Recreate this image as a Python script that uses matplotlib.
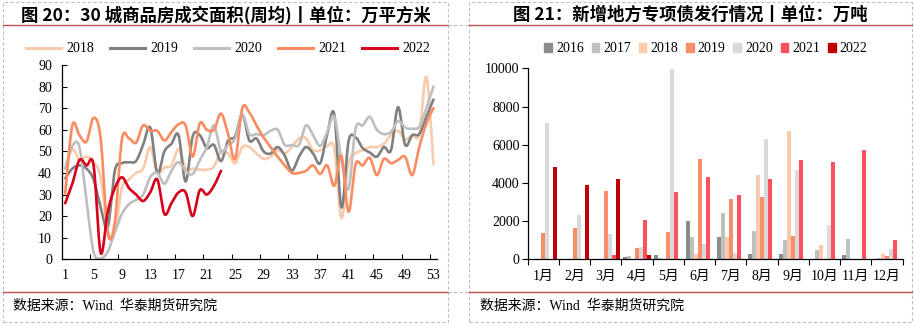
import numpy as np
import matplotlib
matplotlib.use('Agg')
import matplotlib.pyplot as plt
from matplotlib.lines import Line2D
from matplotlib.patches import Rectangle

plt.rcParams['font.family'] = ['Liberation Serif', 'Noto Sans CJK SC']

# 30城商品房成交面积(周均), 万平方米
weeks = list(range(1, 54))
area_2018 = [42, 51, 46, 47.5, 45, 38, 13, 13, 33, 37, 40, 42, 52, 40, 42.5, 43.5, 51, 42, 42, 41.5,
             41.5, 43, 50, 49, 44.5, 52, 52, 49, 46.5, 47.5, 50.5, 49, 52, 56, 56, 50.5, 50.5, 52.5,
             51, 19, 44.5, 49, 50.5, 52, 52, 53.5, 57.5, 59.5, 55.5, 57.5, 58, 84.5, 44]
area_2019 = [37.5, 42, 43.5, 42, 37, 24, 15, 41, 44.5, 45, 45.5, 53, 61, 40, 50, 53.5, 57.5, 36, 57, 57.5,
             51.5, 53, 45.5, 55, 57, 67, 55, 56, 50, 49, 52, 48, 41, 47.5, 52, 49, 44.5, 58,
             67, 24, 54.5, 56.5, 51.5, 49.5, 47.5, 52, 50.5, 70.5, 53, 57.5, 58, 66, 74]
area_2020 = [42, 52.5, 52, 27, 3.5, 0.5, 3.5, 12.5, 21, 25.5, 27.5, 30, 38, 40, 35, 41, 45, 41, 39.5, 46,
             52, 62, 50, 53, 56, 67, 58, 58, 57.5, 59.5, 60, 53, 53, 53, 62, 57.5, 52.5, 59,
             66, 46, 32.5, 60.5, 62, 66, 60, 58, 59, 64, 61, 60.5, 61.5, 70, 80]
area_2021 = [30.5, 62, 57.5, 54.5, 65.5, 56, 12.5, 17, 55.5, 56, 54, 62, 59.5, 59.5, 55, 59, 62.5, 62, 47.5, 63,
             60, 60, 67.5, 58, 46.5, 70, 68, 62, 56.5, 52, 47.5, 43.5, 40, 40, 41, 43.5, 39.5, 43.5,
             34, 48, 22, 44, 43.5, 47, 39, 46.5, 44.5, 46, 47.5, 39, 52, 63, 70]
area_2022 = [26, 35, 46, 43.5, 43.5, 3, 22, 33, 38, 33, 30, 27, 31, 37, 21, 26, 31, 31, 20, 32,
             30, 34, 41]
week_ticks = list(range(1, 54, 4))

# 新增地方专项债发行情况
months = ['1月', '2月', '3月', '4月', '5月', '6月', '7月', '8月', '9月', '10月', '11月', '12月']
bond_2016 = [0, 0, 0, 140, 230, 2000, 1170, 280, 280, 0, 230, 0]
bond_2017 = [0, 0, 0, 190, 60, 1170, 2430, 1480, 1010, 490, 1060, 70]
bond_2018 = [0, 0, 0, 0, 0, 300, 1170, 4410, 6720, 750, 0, 280]
bond_2019 = [1400, 1650, 3590, 600, 1440, 5250, 3160, 3260, 1220, 0, 0, 180]
bond_2020 = [7150, 2330, 1340, 650, 9960, 800, 330, 6300, 4680, 1800, 0, 540]
bond_2021 = [0, 0, 240, 2070, 3530, 4310, 3370, 4200, 5200, 5100, 5720, 1010]
bond_2022 = [4850, 3900, 4220, 230]


def smooth(x, y, n=12):
    # 平滑折线 (Catmull-Rom)
    x = np.asarray(x, float)
    y = np.asarray(y, float)
    px = np.concatenate([[x[0]], x, [x[-1]]])
    py = np.concatenate([[y[0]], y, [y[-1]]])
    t = np.linspace(0, 1, n, endpoint=False)[:, None]
    xs, ys = [], []
    for i in range(1, len(px) - 2):
        for p, out in ((px, xs), (py, ys)):
            p0, p1, p2, p3 = p[i - 1], p[i], p[i + 1], p[i + 2]
            seg = 0.5 * (2 * p1 + (-p0 + p2) * t + (2 * p0 - 5 * p1 + 4 * p2 - p3) * t ** 2
                         + (-p0 + 3 * p1 - 3 * p2 + p3) * t ** 3)
            out.append(seg.ravel())
    xs.append([x[-1]])
    ys.append([y[-1]])
    return np.concatenate(xs), np.concatenate(ys)


W, H = 915, 326
fig = plt.figure(figsize=(W / 100, H / 100), dpi=100)


def fx(px):
    return px / W


def fy(py):
    return 1 - py / H


# 表格边框
grey = '#BFBFBF'
red_rule = '#C0504D'
for x0, x1 in ((3, 447.5), (469, 911.5)):
    fig.add_artist(Rectangle((fx(x0), fy(322)), fx(x1 - x0), (322 - 2) / H, fill=False,
                             ec=grey, lw=0.8, ls=(0, (3, 2)), transform=fig.transFigure))
    for yy in (25, 292):
        fig.add_artist(Line2D([fx(x0), fx(x1)], [fy(yy), fy(yy)], color=red_rule, lw=1.0,
                              transform=fig.transFigure))
for yy in (25, 292):
    fig.add_artist(Line2D([fx(447.5), fx(469)], [fy(yy), fy(yy)], color=grey, lw=0.8,
                          ls=(0, (3, 2)), transform=fig.transFigure))

title_font = dict(family=['Noto Sans CJK SC'], fontsize=12.5, fontweight='bold', ha='center', va='center')
fig.text(fx(226), fy(15), '图 20：30 城商品房成交面积(周均)丨单位：万平方米', **title_font)
fig.text(fx(690), fy(15), '图 21：新增地方专项债发行情况丨单位：万吨', **title_font)

src_font = dict(family=['Liberation Serif', 'Noto Sans CJK SC'], fontsize=10, ha='left', va='center')
fig.text(fx(13), fy(306), '数据来源：Wind  华泰期货研究院', **src_font)
fig.text(fx(480), fy(306), '数据来源：Wind  华泰期货研究院', **src_font)

# 左图: 周均成交面积
ax1 = fig.add_axes([fx(61.7), fy(259.3), fx(437 - 61.7), (259.3 - 65) / H])
line_colors = ['#F8CBAD', '#808080', '#BFBFBF', '#F88C62', '#D9001B']
line_years = ['2018', '2019', '2020', '2021', '2022']
series = [area_2018, area_2019, area_2020, area_2021, area_2022]
for vals, c in zip(series, line_colors):
    sx, sy = smooth(weeks[:len(vals)], vals)
    ax1.plot(sx, sy, color=c, lw=1.9, solid_capstyle='round')
ax1.set_xlim(0.5, 53.5)
ax1.set_ylim(0, 90)
ax1.set_yticks(range(0, 91, 10))
ax1.set_xticks(week_ticks)
ax1.set_xticks(np.arange(4.5, 53, 4), minor=True)
ax1.tick_params(axis='x', which='major', length=0, pad=7, labelsize=10)
ax1.tick_params(axis='x', which='minor', direction='in', length=3.6, width=0.8)
ax1.tick_params(axis='y', direction='in', length=3.6, width=0.8, pad=7, labelsize=10)
for s in ('top', 'right'):
    ax1.spines[s].set_visible(False)
for s in ('left', 'bottom'):
    ax1.spines[s].set_linewidth(0.9)

h1 = [Line2D([], [], color=c, lw=2.2) for c in line_colors]
fig.legend(h1, line_years, ncol=5, loc='center', bbox_to_anchor=(fx(228), fy(49)), frameon=False,
           fontsize=10, handlelength=2.5, handletextpad=0.4, columnspacing=1.15, borderpad=0)

# 右图: 专项债月度发行
ax2 = fig.add_axes([fx(527.7), fy(259.3), fx(902.7 - 527.7), (259.3 - 68.3) / H])
bar_colors = ['#8C8C8C', '#BFBFBF', '#F8CBAD', '#F88E6A', '#D9D9D9', '#FF505E', '#C00000']
bar_years = ['2016', '2017', '2018', '2019', '2020', '2021', '2022']
bars = [bond_2016, bond_2017, bond_2018, bond_2019, bond_2020, bond_2021, bond_2022]
bw = 0.128
for k, (vals, c) in enumerate(zip(bars, bar_colors)):
    xs = np.arange(1, len(vals) + 1) + (k - 3) * bw
    ax2.bar(xs, vals, width=bw, color=c, linewidth=0)
ax2.set_xlim(0.5, 12.5)
ax2.set_ylim(0, 10000)
ax2.set_yticks(range(0, 10001, 2000))
ax2.set_xticks(range(1, 13))
ax2.set_xticklabels(months)
ax2.set_xticks(np.arange(0.5, 13, 1), minor=True)
ax2.tick_params(axis='x', which='major', length=0, pad=8, labelsize=10)
ax2.tick_params(axis='x', which='minor', direction='out', length=4.3, width=0.8)
ax2.tick_params(axis='y', direction='out', length=4.3, width=0.8, pad=1.5, labelsize=10)
for s in ('top', 'right'):
    ax2.spines[s].set_visible(False)
for s in ('left', 'bottom'):
    ax2.spines[s].set_linewidth(0.9)

h2 = [Rectangle((0, 0), 1, 1, color=c) for c in bar_colors]
fig.legend(h2, bar_years, ncol=7, loc='center', bbox_to_anchor=(fx(706), fy(49)), frameon=False,
           fontsize=10, handlelength=0.55, handleheight=0.55, handletextpad=0.3,
           columnspacing=0.55, borderpad=0)

fig.savefig('out.png', dpi=100)
